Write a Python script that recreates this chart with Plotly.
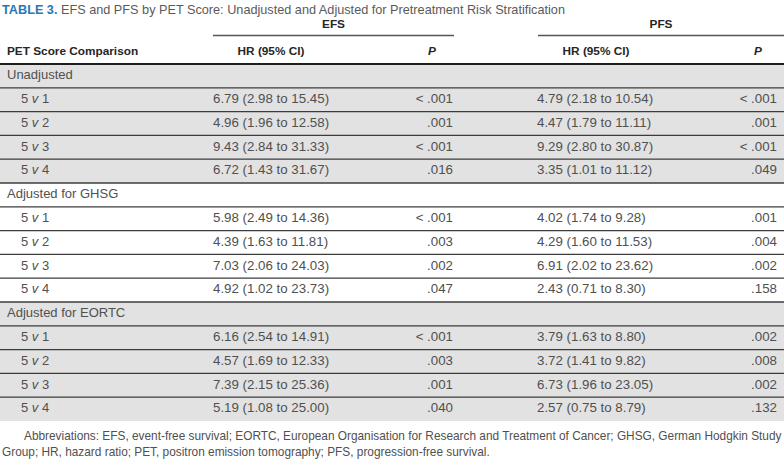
import plotly.graph_objects as go

# ---------------- data ----------------
sections = ["Unadjusted", "Adjusted for GHSG", "Adjusted for EORTC"]
comparisons = ["5 <i>v</i> 1", "5 <i>v</i> 2", "5 <i>v</i> 3", "5 <i>v</i> 4"]

efs_hr = [
    "6.79 (2.98 to 15.45)", "4.96 (1.96 to 12.58)", "9.43 (2.84 to 31.33)", "6.72 (1.43 to 31.67)",
    "5.98 (2.49 to 14.36)", "4.39 (1.63 to 11.81)", "7.03 (2.06 to 24.03)", "4.92 (1.02 to 23.73)",
    "6.16 (2.54 to 14.91)", "4.57 (1.69 to 12.33)", "7.39 (2.15 to 25.36)", "5.19 (1.08 to 25.00)",
]
efs_p = [
    "< .001", ".001", "< .001", ".016",
    "< .001", ".003", ".002", ".047",
    "< .001", ".003", ".001", ".040",
]
pfs_hr = [
    "4.79 (2.18 to 10.54)", "4.47 (1.79 to 11.11)", "9.29 (2.80 to 30.87)", "3.35 (1.01 to 11.12)",
    "4.02 (1.74 to 9.28)", "4.29 (1.60 to 11.53)", "6.91 (2.02 to 23.62)", "2.43 (0.71 to 8.30)",
    "3.79 (1.63 to 8.80)", "3.72 (1.41 to 9.82)", "6.73 (1.96 to 23.05)", "2.57 (0.75 to 8.79)",
]
pfs_p = [
    "< .001", ".001", "< .001", ".049",
    ".001", ".004", ".002", ".158",
    ".002", ".008", ".002", ".132",
]
header_cols = ["PET Score Comparison", "HR (95% CI)", "<i>P</i>", "HR (95% CI)", "<i>P</i>"]
group_heads = ["EFS", "PFS"]
title_lead = "TABLE 3."
title_text = "EFS and PFS by PET Score: Unadjusted and Adjusted for Pretreatment Risk Stratification"
footnote = [
    "Abbreviations: EFS, event-free survival; EORTC, European Organisation for Research and Treatment of Cancer; GHSG, German Hodgkin Study",
    "Group; HR, hazard ratio; PET, positron emission tomography; PFS, progression-free survival.",
]

# ---------------- layout constants ----------------
W, H = 784, 464
TOP = 64.0
RH = 23.8
X_SEC, X_CMP = 7, 21
X_EFS_HR, X_EFS_P = 213, 453
X_PFS_HR, X_PFS_P = 537, 777
FONT = "Liberation Sans, Arial, sans-serif"
TXT = "#505050"
HEAD = "#262626"
GRAY_BG = "#e2e2e2"
BLUE = "#2878b4"

# build rows
row_labels, row_x = [], []
e_hr, e_p, p_hr, p_p = [], [], [], []
for s, sec in enumerate(sections):
    row_labels.append(sec); row_x.append(X_SEC)
    e_hr.append(""); e_p.append(""); p_hr.append(""); p_p.append("")
    for c, cmp_ in enumerate(comparisons):
        k = s * 4 + c
        row_labels.append(cmp_); row_x.append(X_CMP)
        e_hr.append(efs_hr[k]); e_p.append(efs_p[k]); p_hr.append(pfs_hr[k]); p_p.append(pfs_p[k])
n = len(row_labels)
ys = [TOP + (i + 0.5) * RH for i in range(n)]

fig = go.Figure()
tf = dict(family=FONT, size=13, color=TXT)
tf_num = dict(family=FONT, size=13.3, color=TXT)


def add_text(xs, yy, texts, pos, font):
    fig.add_trace(go.Scatter(x=xs, y=yy, text=texts, mode="text", textposition=pos,
                             textfont=font, hoverinfo="skip", showlegend=False))


add_text(row_x, ys, row_labels, "middle right", tf)
add_text([X_EFS_HR] * n, ys, e_hr, "middle right", tf_num)
add_text([X_EFS_P] * n, ys, e_p, "middle left", tf_num)
add_text([X_PFS_HR] * n, ys, p_hr, "middle right", tf_num)
add_text([X_PFS_P] * n, ys, p_p, "middle left", tf_num)

# headers
hf = dict(family=FONT, size=11.8, color=HEAD)
HY = 52
add_text([X_SEC], [HY], ["<b>" + header_cols[0] + "</b>"], "middle right", hf)
add_text([271, 432, 596, 758], [HY] * 4, ["<b>" + h + "</b>" for h in header_cols[1:]], "middle center", hf)
add_text([333.5, 661], [25, 25], ["<b>" + g + "</b>" for g in group_heads], "middle center", hf)

shapes = []
# gray section backgrounds (section 0 and 2)
for s in (0, 2):
    y0 = TOP + s * 5 * RH
    shapes.append(dict(type="rect", xref="x", yref="y", x0=0, x1=W, y0=y0, y1=y0 + 5 * RH,
                       fillcolor=GRAY_BG, line_width=0, layer="below"))
# row separator lines
for i in range(1, n):
    y = TOP + i * RH
    shapes.append(dict(type="line", xref="x", yref="y", x0=0, x1=W, y0=y, y1=y,
                       line=dict(color="#3c3c3c", width=1.3)))
# header rule
shapes.append(dict(type="line", xref="x", yref="y", x0=0, x1=W, y0=TOP, y1=TOP,
                   line=dict(color="#1e1e1e", width=2.2)))
# group rules
shapes.append(dict(type="line", xref="x", yref="y", x0=213, x1=454, y0=35.5, y1=35.5,
                   line=dict(color="#555", width=1.3)))
shapes.append(dict(type="line", xref="x", yref="y", x0=538, x1=W, y0=35.5, y1=35.5,
                   line=dict(color="#555", width=1.3)))

annotations = [
    dict(xref="x", yref="y", x=0, y=10, xanchor="left", yanchor="middle", showarrow=False,
         text=f"<b><span style='color:{BLUE}'>{title_lead}</span></b> {title_text}",
         font=dict(family=FONT, size=12.7, color="#5a5a5a")),
    dict(xref="x", yref="y", x=22, y=436, xanchor="left", yanchor="middle", showarrow=False,
         text=footnote[0], font=dict(family=FONT, size=11.85, color=TXT)),
    dict(xref="x", yref="y", x=0, y=452, xanchor="left", yanchor="middle", showarrow=False,
         text=footnote[1], font=dict(family=FONT, size=11.85, color=TXT)),
]

fig.update_layout(
    width=W, height=H, margin=dict(l=0, r=0, t=0, b=0),
    paper_bgcolor="white", plot_bgcolor="white",
    xaxis=dict(range=[0, W], visible=False, fixedrange=True),
    yaxis=dict(range=[H, 0], visible=False, fixedrange=True),
    shapes=shapes, annotations=annotations, showlegend=False,
)
fig.write_html("out.html", config={"displayModeBar": False, "staticPlot": True},
               post_script="document.body.style.margin='0';document.body.style.overflow='hidden';")
